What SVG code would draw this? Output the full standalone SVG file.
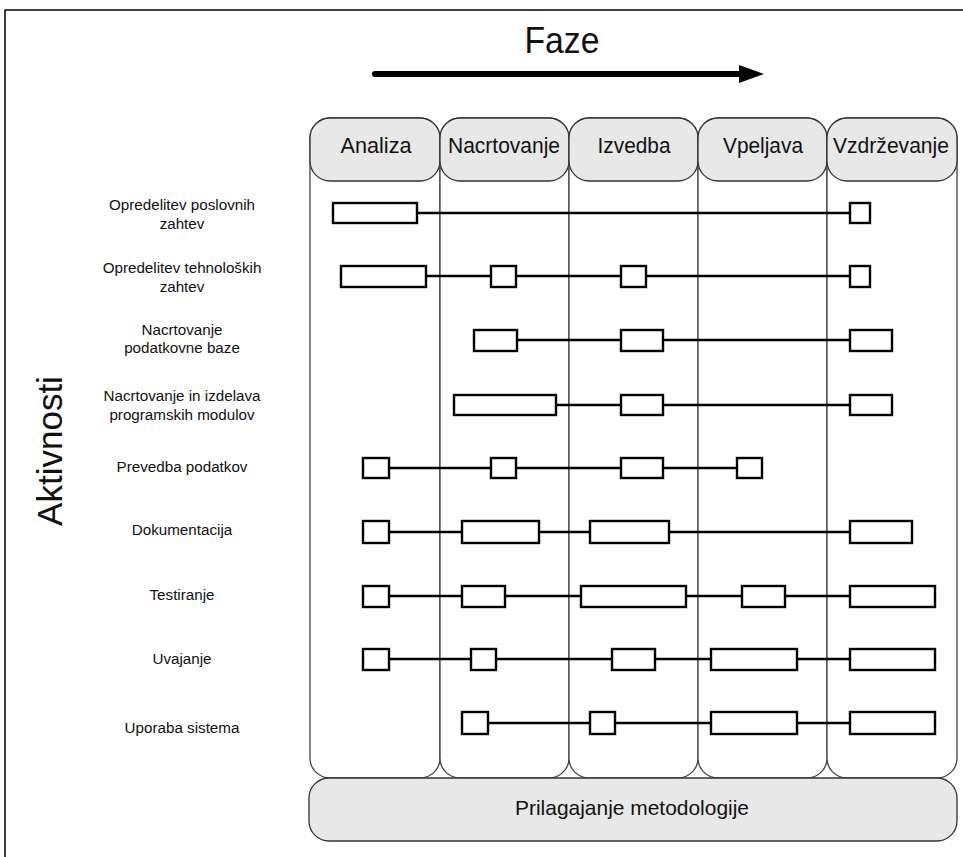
<svg xmlns="http://www.w3.org/2000/svg" width="963" height="857" viewBox="0 0 963 857">
  <style>
    text { font-family: "Liberation Sans", Arial, sans-serif; fill: #111; }
    .col { fill: #fff; stroke: #444; stroke-width: 1.3; }
    .head { fill: #e8e8e8; stroke: #333; stroke-width: 1.3; }
    .hlabel { font-size: 22px; text-anchor: middle; }
    .rlabel { font-size: 15.2px; text-anchor: middle; }
    .bar { fill: #fff; stroke: #000; stroke-width: 2.4; }
    .link { stroke: #000; stroke-width: 2.4; fill: none; }
  </style>

  <rect width="963" height="857" fill="#fff"/>
  <!-- outer frame -->
  <path d="M5,857 V10 H963" fill="none" stroke="#000" stroke-width="1.5"/>

  <!-- phase direction -->
  <text x="562" y="53" font-size="36" text-anchor="middle" textLength="75" lengthAdjust="spacingAndGlyphs">Faze</text>
  <line x1="375" y1="74" x2="742" y2="74" stroke="#000" stroke-width="6" stroke-linecap="round"/>
  <polygon points="739,65 764,74 739,83" fill="#000"/>

  <text transform="translate(62,451) rotate(-90)" font-size="35" text-anchor="middle">Aktivnosti</text>

  <!-- phase columns -->
  <g id="col-analiza">
    <rect class="col" x="310" y="118" width="130" height="660" rx="20"/>
    <rect class="head" x="310" y="118" width="130" height="63" rx="20"/>
    <text class="hlabel" x="376" y="153" textLength="71" lengthAdjust="spacingAndGlyphs">Analiza</text>
  </g>
  <g id="col-nacrtovanje">
    <rect class="col" x="440" y="118" width="129" height="660" rx="20"/>
    <rect class="head" x="440" y="118" width="129" height="63" rx="20"/>
    <text class="hlabel" x="504" y="153" textLength="112" lengthAdjust="spacingAndGlyphs">Nacrtovanje</text>
  </g>
  <g id="col-izvedba">
    <rect class="col" x="569" y="118" width="129" height="660" rx="20"/>
    <rect class="head" x="569" y="118" width="129" height="63" rx="20"/>
    <text class="hlabel" x="634" y="153" textLength="73" lengthAdjust="spacingAndGlyphs">Izvedba</text>
  </g>
  <g id="col-vpeljava">
    <rect class="col" x="698" y="118" width="129" height="660" rx="20"/>
    <rect class="head" x="698" y="118" width="129" height="63" rx="20"/>
    <text class="hlabel" x="763" y="153" textLength="80" lengthAdjust="spacingAndGlyphs">Vpeljava</text>
  </g>
  <g id="col-vzdrzevanje">
    <rect class="col" x="827" y="118" width="130" height="660" rx="20"/>
    <rect class="head" x="827" y="118" width="130" height="63" rx="20"/>
    <text class="hlabel" x="891" y="153" textLength="116" lengthAdjust="spacingAndGlyphs">Vzdrževanje</text>
  </g>

  <g id="prilagajanje">
    <rect class="head" x="309" y="778" width="648" height="63" rx="20"/>
    <text x="632" y="815" font-size="21" text-anchor="middle" textLength="234" lengthAdjust="spacingAndGlyphs">Prilagajanje metodologije</text>
  </g>

  <!-- activity labels -->
  <g id="labels">
    <text class="rlabel" x="182" y="210">Opredelitev poslovnih</text>
    <text class="rlabel" x="182" y="229">zahtev</text>
    <text class="rlabel" x="182" y="273">Opredelitev tehnoloških</text>
    <text class="rlabel" x="182" y="292">zahtev</text>
    <text class="rlabel" x="182" y="335">Nacrtovanje</text>
    <text class="rlabel" x="182" y="353">podatkovne baze</text>
    <text class="rlabel" x="182" y="401">Nacrtovanje in izdelava</text>
    <text class="rlabel" x="182" y="420">programskih modulov</text>
    <text class="rlabel" x="182" y="472">Prevedba podatkov</text>
    <text class="rlabel" x="182" y="535">Dokumentacija</text>
    <text class="rlabel" x="182" y="600">Testiranje</text>
    <text class="rlabel" x="182" y="664">Uvajanje</text>
    <text class="rlabel" x="182" y="733">Uporaba sistema</text>
  </g>

  <!-- connectors between activity blocks -->
  <g id="connectors">
    <line class="link" x1="417" y1="213" x2="850" y2="213"/>
    <line class="link" x1="426" y1="276" x2="850" y2="276"/>
    <line class="link" x1="517" y1="340" x2="850" y2="340"/>
    <line class="link" x1="556" y1="405" x2="850" y2="405"/>
    <line class="link" x1="389" y1="468" x2="737" y2="468"/>
    <line class="link" x1="389" y1="532" x2="850" y2="532"/>
    <line class="link" x1="389" y1="596" x2="850" y2="596"/>
    <line class="link" x1="389" y1="659" x2="850" y2="659"/>
    <line class="link" x1="488" y1="723" x2="850" y2="723"/>
  </g>

  <!-- activity blocks -->
  <g id="row1">
    <rect class="bar" x="333" y="203" width="84" height="20"/>
    <rect class="bar" x="850" y="203" width="20" height="20"/>
  </g>
  <g id="row2">
    <rect class="bar" x="341" y="266" width="85" height="21"/>
    <rect class="bar" x="491" y="266" width="25" height="21"/>
    <rect class="bar" x="621" y="266" width="25" height="21"/>
    <rect class="bar" x="850" y="266" width="20" height="21"/>
  </g>
  <g id="row3">
    <rect class="bar" x="474" y="330" width="43" height="21"/>
    <rect class="bar" x="621" y="330" width="42" height="21"/>
    <rect class="bar" x="850" y="330" width="42" height="21"/>
  </g>
  <g id="row4">
    <rect class="bar" x="454" y="395" width="102" height="20"/>
    <rect class="bar" x="621" y="395" width="42" height="20"/>
    <rect class="bar" x="850" y="395" width="42" height="20"/>
  </g>
  <g id="row5">
    <rect class="bar" x="363" y="458" width="26" height="20"/>
    <rect class="bar" x="491" y="458" width="25" height="20"/>
    <rect class="bar" x="621" y="458" width="42" height="20"/>
    <rect class="bar" x="737" y="458" width="25" height="20"/>
  </g>
  <g id="row6">
    <rect class="bar" x="363" y="521" width="26" height="22"/>
    <rect class="bar" x="462" y="521" width="77" height="22"/>
    <rect class="bar" x="590" y="521" width="79" height="22"/>
    <rect class="bar" x="850" y="521" width="62" height="22"/>
  </g>
  <g id="row7">
    <rect class="bar" x="363" y="586" width="26" height="21"/>
    <rect class="bar" x="462" y="586" width="43" height="21"/>
    <rect class="bar" x="581" y="586" width="105" height="21"/>
    <rect class="bar" x="742" y="586" width="43" height="21"/>
    <rect class="bar" x="850" y="586" width="85" height="21"/>
  </g>
  <g id="row8">
    <rect class="bar" x="363" y="649" width="26" height="21"/>
    <rect class="bar" x="471" y="649" width="25" height="21"/>
    <rect class="bar" x="612" y="649" width="43" height="21"/>
    <rect class="bar" x="711" y="649" width="86" height="21"/>
    <rect class="bar" x="850" y="649" width="85" height="21"/>
  </g>
  <g id="row9">
    <rect class="bar" x="462" y="712" width="26" height="22"/>
    <rect class="bar" x="590" y="712" width="25" height="22"/>
    <rect class="bar" x="711" y="712" width="86" height="22"/>
    <rect class="bar" x="850" y="712" width="85" height="22"/>
  </g>
</svg>
